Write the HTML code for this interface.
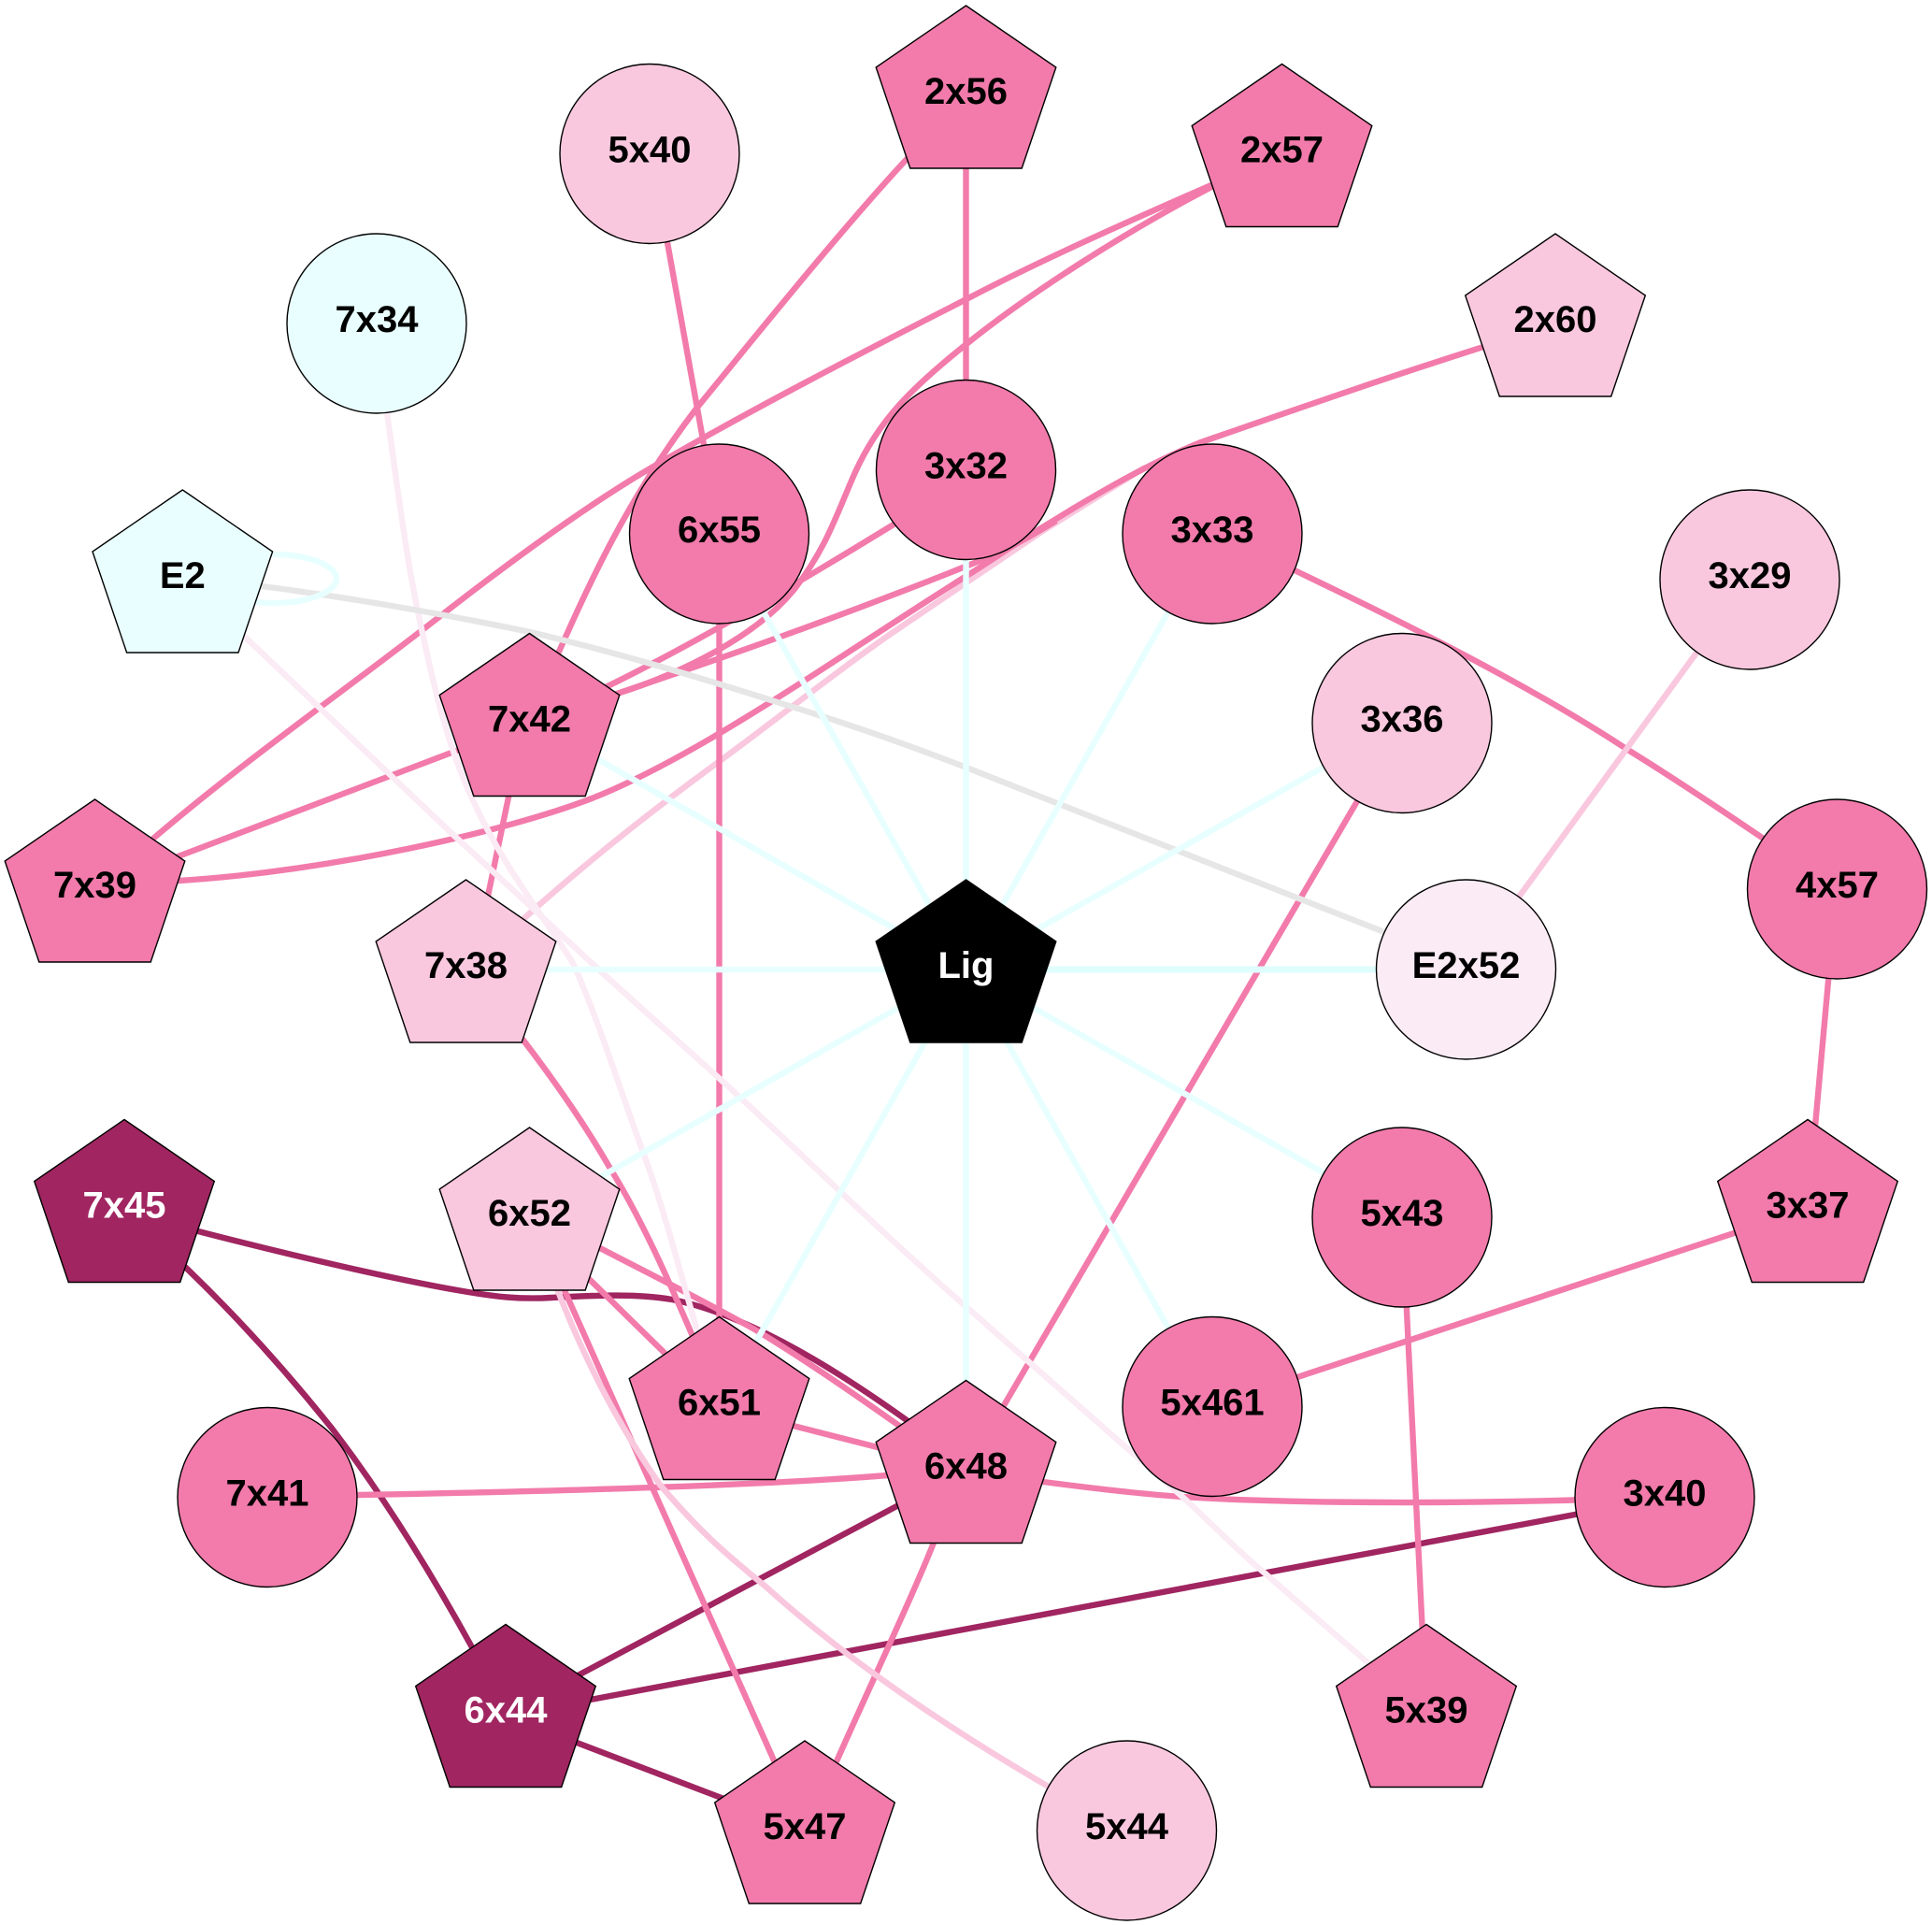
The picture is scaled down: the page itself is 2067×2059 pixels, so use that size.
<!DOCTYPE html>
<html><head><meta charset="utf-8"><title>Diagram</title>
<style>
html,body{margin:0;padding:0;background:#fff}
svg{display:block}
text{font-family:"Liberation Sans",Arial,sans-serif;font-weight:bold;font-size:40px;text-anchor:middle;fill:#000}
text.w{fill:#fff}
.e{fill:none;stroke-width:6.4;stroke-linecap:butt;stroke-linejoin:round}
.d{stroke:#a02560}.p{stroke:#f27bab}.l{stroke:#f9c8de}.v{stroke:#fbebf4}.g{stroke:#e6e6e6}.c{stroke:#e8ffff}
.n{stroke:#000;stroke-width:1.4}
.fp{fill:#f27bab}.fl{fill:#f9c8de}.fd{fill:#a02560}.fc{fill:#e9ffff}.fv{fill:#fbebf4}.fk{fill:#000}
</style></head><body>
<svg width="2067" height="2059" viewBox="0 0 2067 2059" xmlns="http://www.w3.org/2000/svg">
<rect width="2067" height="2059" fill="#fff"/>
<!-- dark edges -->
<path class="e d" d="M133,1300 L212,1317 C320,1345 430,1370 495,1381 C530,1387 555,1390 590,1388 C630,1386 680,1383 719,1390 C780,1402 860,1440 970,1519 L1033,1570"/>
<path class="e d" d="M150,1310 L199,1356 C250,1405 305,1465 356,1529 C410,1600 460,1680 505,1762 L541,1830"/>
<path class="e d" d="M1033,1572 L541,1833"/>
<path class="e d" d="M1781,1602 L541,1835"/>
<path class="e d" d="M541,1835 L861,1957"/>
<!-- light edge beneath pink -->
<path class="e l" d="M498,1040 L561,982 C630,920 700,865 770,814 C830,770 890,722 950,680 C1010,640 1060,605 1117,567 L1225,500"/>
<!-- pink edges -->
<path class="e p" d="M1033.5,100 L1033.5,500"/>
<path class="e p" d="M1033,100 L973,167 C900,245 800,370 745,437 C670,535 630,625 590,715 L570,770"/>
<path class="e p" d="M697,165 L770,570"/>
<path class="e p" d="M1371,165 L1298,197 C1200,240 1110,280 1034,320 C920,378 800,440 699,499 C630,539 540,605 462,666 C360,745 260,815 165,896 L101,950"/>
<path class="e p" d="M1371,165 L1298,199 C1200,250 1100,315 1034,368 C975,415 940,450 915,505 C895,550 885,585 850,630 C810,680 730,720 660,742 L566,775"/>
<path class="e p" d="M1033,513 L956,561 C860,620 750,685 650,734 L566,775"/>
<path class="e p" d="M566,775 L660,742 C760,708 900,660 1060,595 C1085,584 1105,572 1130,557"/>
<path class="e p" d="M1664,345 L1587,371 C1480,405 1380,440 1285,473 C1230,495 1170,530 1117,563 C1085,582 1060,600 1034,616 C900,700 750,808 633,854 C540,890 350,932 191,942 L101,950"/>
<path class="e p" d="M101,950 L491,802 L566,775"/>
<path class="e p" d="M555,800 L505,1040"/>
<path class="e p" d="M769.5,570 L769.5,1500"/>
<path class="e p" d="M1297,570 L1387,611 C1500,665 1640,735 1740,801 C1800,838 1850,872 1965,950"/>
<path class="e p" d="M1500,775 L1035,1570"/>
<path class="e p" d="M1965,950 L1934,1293"/>
<path class="e p" d="M1934,1293 L1297,1503"/>
<path class="e p" d="M1500,1300 L1526,1830"/>
<path class="e p" d="M1033,1575 L1116,1585 C1170,1592 1220,1598 1265,1601 C1340,1606 1500,1610 1700,1604 L1781,1602"/>
<path class="e p" d="M286,1601 L383,1599 C550,1596 800,1590 950,1578 L1033,1570"/>
<path class="e p" d="M770,1505 L1033,1572"/>
<path class="e p" d="M1033,1570 L999,1650 C975,1710 930,1805 895,1884 L861,1957"/>
<path class="e p" d="M566,1300 L642,1335 C700,1365 760,1395 811,1424 C870,1460 920,1495 1033,1575"/>
<path class="e p" d="M566,1305 L770,1505"/>
<path class="e p" d="M566,1295 L861,1957"/>
<path class="e p" d="M498,1040 L561,1114 C600,1165 630,1210 653,1250 C690,1310 720,1380 750,1450"/>
<!-- light edges -->
<path class="e l" d="M1872,620 L1568.5,1037"/>
<path class="e l" d="M566,1300 L597,1381 C620,1440 655,1515 706,1588 C750,1640 780,1665 818,1696 C900,1770 1000,1840 1120,1910 L1205,1958"/>
<!-- paler edges -->
<path class="e v" d="M403,346 L414,441 C425,520 435,600 449,663 C465,740 480,800 505,854 C540,930 575,970 613,1030 C640,1090 665,1170 686,1227 C710,1290 730,1370 745,1420 L770,1505"/>
<path class="e v" d="M195,620 L264,683 C340,755 410,822 485,893 C530,935 585,985 633,1030 C685,1078 740,1126 792,1174 C870,1246 950,1325 1034,1398 C1110,1465 1190,1535 1265,1601 C1295,1628 1320,1655 1350,1680 C1390,1715 1425,1745 1463,1778 L1526,1833"/>
<!-- grey -->
<path class="e g" d="M195,615 L280,627 C380,640 480,658 567,676 C660,698 750,725 844,755 C910,775 980,800 1034,821 L1476,995 L1568,1036"/>
<!-- cyan -->
<ellipse class="e c" cx="292" cy="619" rx="68" ry="26"/>
<path class="e c" d="M1033.5,1037 L1033.5,500"/>
<path class="e c" d="M1033.5,1037 L769.5,571"/>
<path class="e c" d="M1033.5,1037 L1297,571"/>
<path class="e c" d="M1033.5,1037 L1500,773"/>
<path class="e" style="stroke:#dffefe;stroke-width:7" d="M1033.5,1037 L1568.5,1037"/>
<path class="e c" d="M1033.5,1037 L1500,1302"/>
<path class="e c" d="M1033.5,1037 L1297,1504"/>
<path class="e c" d="M1033.5,1037 L1033.5,1572"/>
<path class="e c" d="M1033.5,1037 L770,1504"/>
<path class="e c" d="M1033.5,1037 L566,1302"/>
<path class="e c" d="M1033.5,1037 L498,1037"/>
<path class="e c" d="M1033.5,1037 L566,770"/>
<!-- nodes -->
<g id="nodes">
<circle class="n fl" cx="695" cy="164.5" r="96"/><text x="695" y="173.5">5x40</text>
<circle class="n fc" cx="403" cy="346" r="96"/><text x="403" y="355">7x34</text>
<polygon class="n fp" transform="translate(1033.5,6)" points="0,0 96.3,66 59.7,174 -59.7,174 -96.3,66"/><text x="1033.5" y="111">2x56</text>
<polygon class="n fp" transform="translate(1371.5,68.5)" points="0,0 96.3,66 59.7,174 -59.7,174 -96.3,66"/><text x="1371.5" y="173.5">2x57</text>
<polygon class="n fl" transform="translate(1664,250)" points="0,0 96.3,66 59.7,174 -59.7,174 -96.3,66"/><text x="1664" y="355">2x60</text>
<circle class="n fl" cx="1872" cy="620" r="96"/><text x="1872" y="629">3x29</text>
<polygon class="n fc" transform="translate(195.3,524)" points="0,0 96.3,66 59.7,174 -59.7,174 -96.3,66"/><text x="195.3" y="629">E2</text>
<circle class="n fp" cx="1033.5" cy="502.5" r="96"/><text x="1033.5" y="511.5">3x32</text>
<circle class="n fp" cx="769.5" cy="571" r="96"/><text x="769.5" y="580">6x55</text>
<circle class="n fp" cx="1297" cy="571" r="96"/><text x="1297" y="580">3x33</text>
<polygon class="n fp" transform="translate(566.5,677.5)" points="0,0 96.3,66 59.7,174 -59.7,174 -96.3,66"/><text x="566.5" y="782.5">7x42</text>
<circle class="n fl" cx="1500" cy="773.5" r="96"/><text x="1500" y="782.5">3x36</text>
<polygon class="n fp" transform="translate(101.5,855)" points="0,0 96.3,66 59.7,174 -59.7,174 -96.3,66"/><text x="101.5" y="960">7x39</text>
<circle class="n fp" cx="1965.5" cy="951" r="96"/><text x="1965.5" y="960">4x57</text>
<polygon class="n fl" transform="translate(498.5,941)" points="0,0 96.3,66 59.7,174 -59.7,174 -96.3,66"/><text x="498.5" y="1046">7x38</text>
<polygon class="n fk" transform="translate(1033.5,941)" points="0,0 96.3,66 59.7,174 -59.7,174 -96.3,66"/><text class="w" x="1033.5" y="1046">Lig</text>
<circle class="n fv" cx="1568.5" cy="1037" r="96"/><text x="1568.5" y="1046">E2x52</text>
<polygon class="n fd" transform="translate(133,1197.5)" points="0,0 96.3,66 59.7,174 -59.7,174 -96.3,66"/><text class="w" x="133" y="1302.5">7x45</text>
<polygon class="n fp" transform="translate(1934,1197.5)" points="0,0 96.3,66 59.7,174 -59.7,174 -96.3,66"/><text x="1934" y="1302.5">3x37</text>
<polygon class="n fl" transform="translate(566.5,1206)" points="0,0 96.3,66 59.7,174 -59.7,174 -96.3,66"/><text x="566.5" y="1311">6x52</text>
<circle class="n fp" cx="1500" cy="1302" r="96"/><text x="1500" y="1311">5x43</text>
<polygon class="n fp" transform="translate(769.5,1408.5)" points="0,0 96.3,66 59.7,174 -59.7,174 -96.3,66"/><text x="769.5" y="1513.5">6x51</text>
<circle class="n fp" cx="1297" cy="1504.5" r="96"/><text x="1297" y="1513.5">5x461</text>
<polygon class="n fp" transform="translate(1033.5,1476.5)" points="0,0 96.3,66 59.7,174 -59.7,174 -96.3,66"/><text x="1033.5" y="1581.5">6x48</text>
<circle class="n fp" cx="286" cy="1601.5" r="96"/><text x="286" y="1610.5">7x41</text>
<circle class="n fp" cx="1781" cy="1601.5" r="96"/><text x="1781" y="1610.5">3x40</text>
<polygon class="n fd" transform="translate(541,1737.5)" points="0,0 96.3,66 59.7,174 -59.7,174 -96.3,66"/><text class="w" x="541" y="1842.5">6x44</text>
<polygon class="n fp" transform="translate(1526,1737.5)" points="0,0 96.3,66 59.7,174 -59.7,174 -96.3,66"/><text x="1526" y="1842.5">5x39</text>
<polygon class="n fp" transform="translate(861,1862)" points="0,0 96.3,66 59.7,174 -59.7,174 -96.3,66"/><text x="861" y="1967">5x47</text>
<circle class="n fl" cx="1205.5" cy="1958" r="96"/><text x="1205.5" y="1967">5x44</text>
</g>
</svg>
</body></html>
